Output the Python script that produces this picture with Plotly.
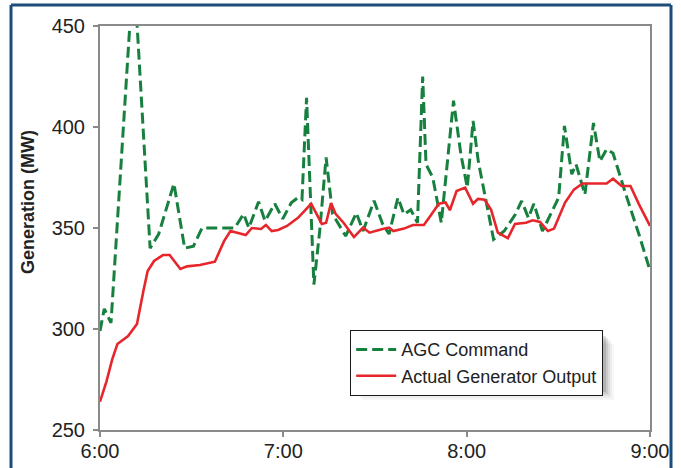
import plotly.graph_objects as go

# Time in minutes after 6:00
agc_minutes = [0, 1.4, 3.6, 11, 16.4, 19.2, 24.2, 27.7, 30.6, 33.4, 44.1, 47, 48.7, 51.9, 54,
               57.2, 59.8, 62.6, 64.7, 66.1, 67.6, 70, 71.9, 74, 76.1, 80.4, 83.9, 86.1, 89.7,
               92.5, 94.6, 97.5, 99.5, 101.7, 103.9, 105.6, 106.7, 108.9, 111.7, 115.7, 118.1,
               120.2, 122.1, 123.8, 128.8, 132.3, 135.9, 138, 140.2, 142, 144.8, 147.3, 150.1,
               152, 154.4, 155.8, 158.7, 161.5, 163.6, 165.8, 167.9, 172.1, 176.4, 180]
agc_values = [299, 310, 303, 480, 340, 347, 372, 340, 341, 350, 350, 357, 350, 363, 353.5,
              362, 354.5, 362.5, 365, 364, 414.5, 322, 348.5, 385, 357, 346, 357.5, 348.5, 363.5,
              352, 347, 365, 356.7, 359, 352.6, 425, 381.5, 375, 352.6, 413, 386.6,
              370, 403, 383, 344.4, 348.5, 356.7, 363.4, 355, 362, 348.5, 356, 365,
              400.5, 376.6, 381.5, 366.6, 402, 383, 389, 387, 366.6, 346.8, 329]

actual_minutes = [0, 2.1, 4.0, 5.7, 9.2, 12.1, 14.2, 15.6, 17.7, 20.6, 22.8, 26.3, 28.5, 32.7,
                  37.6, 40.6, 42.7, 47.7, 49.7, 52.7, 54.3, 56.2, 58.3, 61.2, 64.8, 69.1, 72.6,
                  74, 75.6, 77.1, 79.7, 83.1, 86.1, 88.2, 92.5, 94.6, 96, 99.5, 102.4, 106,
                  108.1, 110.9, 113.1, 114.5, 116.7, 119.5, 122.1, 123.7, 125.9, 128, 130.2,
                  133.5, 135.8, 139.4, 141.6, 144, 146.6, 148.6, 152.2, 155.1, 157.9, 162.2,
                  165.8, 167.9, 170.7, 173.6, 176.4, 180]
actual_values = [264, 274, 285, 292.6, 296.5, 302.5, 318.8, 328.7, 333.7, 336.6, 336.6, 329.7,
                 331, 331.7, 333.3, 343.5, 348.5, 346.5, 350, 349.5, 351.5, 348.5, 349, 351,
                 355, 362, 352, 352.6, 362.4, 357, 352.6, 345.5, 350.2, 347.7, 349.5, 350.2,
                 348.5, 349.7, 351.5, 351.5, 356, 362, 362.6, 358.8, 368.3, 370, 362, 364.4,
                 364, 359, 347.7, 345, 352, 352.6, 353.8, 353, 348.5, 349.7, 362.6, 369, 372,
                 372, 372, 374.4, 370.8, 370.8, 361.7, 351]

x_tick_vals = [0, 60, 120, 180]
x_tick_text = ["6:00", "7:00", "8:00", "9:00"]
y_tick_vals = [250, 300, 350, 400, 450]

FONT = "Liberation Sans, Arial, Helvetica, sans-serif"
GREEN = "#17803f"
RED = "#e6262b"
NAVY = "#1c4c77"

fig = go.Figure()
fig.add_trace(go.Scatter(x=agc_minutes, y=agc_values, mode="lines", name="AGC Command",
                         line=dict(color=GREEN, width=3, dash="11px,5px")))
fig.add_trace(go.Scatter(x=actual_minutes, y=actual_values, mode="lines",
                         name="Actual Generator Output",
                         line=dict(color=RED, width=2.6)))

W, H = 681, 468
L, R, T, B = 100, 31, 26, 38
pw, ph = W - L - R, H - T - B

def px(xp):
    return (xp - L) / pw

def py(yp):
    return (H - B - yp) / ph

shapes = []
# legend shadow (soft, layered)
for i, op in enumerate([0.12, 0.09, 0.06, 0.04, 0.03]):
    off = 2 + i * 2
    shapes.append(dict(type="rect", xref="paper", yref="paper",
                       x0=px(352 + off), x1=px(604 + off),
                       y0=py(390 + off), y1=py(334 + off),
                       line=dict(width=0), fillcolor=f"rgba(0,0,0,{op})", layer="above"))
# outer navy frame
shapes.append(dict(type="line", xref="paper", yref="paper", x0=px(11), x1=px(11),
                   y0=py(480), y1=py(5), line=dict(color=NAVY, width=3)))
shapes.append(dict(type="line", xref="paper", yref="paper", x0=px(11), x1=px(671),
                   y0=py(5), y1=py(5), line=dict(color=NAVY, width=3)))
shapes.append(dict(type="line", xref="paper", yref="paper", x0=px(671), x1=px(671),
                   y0=py(480), y1=py(5), line=dict(color=NAVY, width=3)))

fig.update_layout(
    width=W, height=H,
    margin=dict(l=L, r=R, t=T, b=B),
    paper_bgcolor="white", plot_bgcolor="white",
    font=dict(family=FONT, size=18, color="#222222"),
    showlegend=True,
    legend=dict(x=px(350), y=py(330), xanchor="left", yanchor="top",
                bgcolor="white", bordercolor="#1a1a1a", borderwidth=1.2,
                font=dict(family=FONT, size=18, color="#222222"),
                tracegroupgap=0, itemwidth=40),
    shapes=shapes,
    annotations=[dict(text="<b>Generation (MW)</b>", xref="paper", yref="paper",
                      x=px(28), y=py(202), xanchor="center", yanchor="middle",
                      textangle=-90, showarrow=False,
                      font=dict(family=FONT, size=18, color="#222222"))],
)
fig.update_xaxes(range=[0, 180], tickvals=x_tick_vals, ticktext=x_tick_text,
                 automargin=False,
                 showgrid=False, zeroline=False, showline=True, linecolor="#8a8a8a",
                 linewidth=2, mirror=True, ticks="outside", ticklen=5, tickwidth=1.5,
                 tickcolor="#8a8a8a", tickfont=dict(size=20, color="#222222"),
                 ticklabelstandoff=-3)
fig.update_yaxes(range=[250, 450], tickvals=y_tick_vals,
                 automargin=False,
                 showgrid=False, zeroline=False, showline=True, linecolor="#8a8a8a",
                 linewidth=2, mirror=True, ticks="outside", ticklen=5, tickwidth=1.5,
                 tickcolor="#8a8a8a", tickfont=dict(size=20, color="#222222"),
                 ticklabelstandoff=4)

fig.write_html("out.html", config={"displayModeBar": False},
               post_script="document.body.style.margin='0px';document.body.style.padding='0px';")
